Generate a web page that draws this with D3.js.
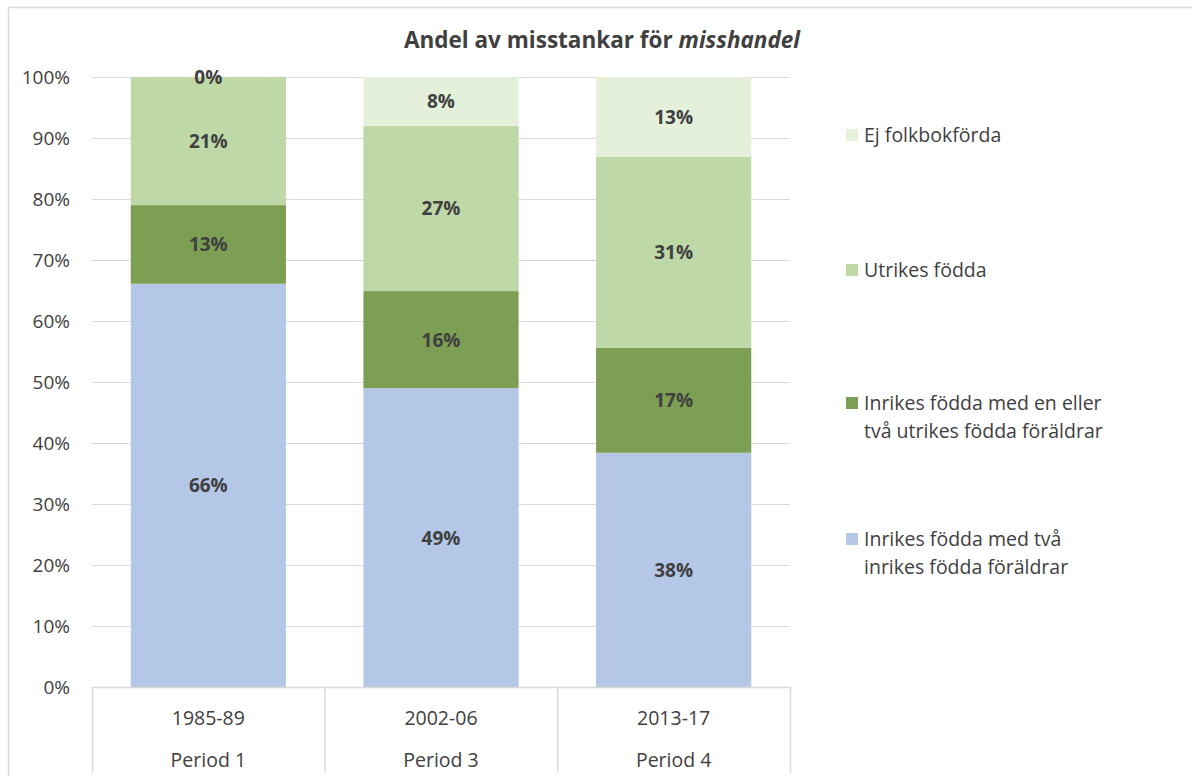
<!DOCTYPE html>
<html>
<head>
<meta charset="utf-8">
<title>Andel av misstankar för misshandel</title>
<script src="https://d3js.org/d3.v7.min.js"></script>
<style>
  body { margin: 0; background: #fff; }
  text { font-family: "Open Sans", "Noto Sans", sans-serif; fill: #404040; }
</style>
</head>
<body>
<div id="chart"></div>
<script>
    // data (percent)
    var periods = ["1985-89", "2002-06", "2013-17"];
    var periodNames = ["Period 1", "Period 3", "Period 4"];
    var seriesNames = ["Inrikes födda med två inrikes födda föräldrar",
                       "Inrikes födda med en eller två utrikes födda föräldrar",
                       "Utrikes födda",
                       "Ej folkbokförda"];
    var inrikesTva = [66.1, 49.0, 38.4];
    var inrikesEnEller = [12.9, 15.9, 17.2];
    var utrikes = [21.0, 27.1, 31.3];
    var ejFolkbokforda = [0.0, 8.0, 13.1];
    var yTicks = [0, 10, 20, 30, 40, 50, 60, 70, 80, 90, 100];
    var colors = ["#b4c7e7", "#7c9f54", "#bfd8a7", "#e4f0da"];
    var legendLines = [["Inrikes födda med två", "inrikes födda föräldrar"],
                       ["Inrikes födda med en eller", "två utrikes födda föräldrar"],
                       ["Utrikes födda"],
                       ["Ej folkbokförda"]];

    var W = 1192, H = 776;
    var margin = {left: 92, right: 402, top: 77, bottom: 89};
    var width = W - margin.left - margin.right,
        height = H - margin.top - margin.bottom;

    var svg = d3.select("#chart").append("svg")
        .attr("width", W).attr("height", H);

    // chart frame (only top and left visible in the reference)
    svg.append("path")
        .attr("d", "M8.5," + H + "V7.5H" + W)
        .attr("fill", "none").attr("stroke", "#d9d9d9").attr("stroke-width", 1.5);

    // title
    var title = svg.append("text")
        .attr("x", 602).attr("y", 48)
        .attr("text-anchor", "middle")
        .style("font-size", "22.5px").style("font-weight", "bold");
    title.append("tspan").text("Andel av misstankar för ");
    title.append("tspan").style("font-style", "italic").text("misshandel");

    var g = svg.append("g")
        .attr("transform", "translate(" + margin.left + "," + margin.top + ")");

    var x = d3.scaleBand().domain(periods).range([0, width]).paddingInner(0.333).paddingOuter(0.1665);
    var y = d3.scaleLinear().domain([0, 100]).range([height, 0]);

    // gridlines
    g.append("g").selectAll("line").data(yTicks).join("line")
        .attr("x1", 0).attr("x2", width)
        .attr("y1", d => Math.round(y(d)) + 0.5).attr("y2", d => Math.round(y(d)) + 0.5)
        .attr("stroke", "#d9d9d9").attr("stroke-width", 1.2);

    // y axis labels
    var yAxis = g.append("g").call(d3.axisLeft(y).tickValues(yTicks).tickSize(0).tickPadding(22)
        .tickFormat(d => d + "%"));
    yAxis.select(".domain").remove();
    yAxis.selectAll("text").style("font-size", "19px").attr("fill", "#595959")
        .style("font-family", "'Open Sans', sans-serif");

    // stacked data
    var rows = periods.map(function(p, i) {
        return {period: p, s0: inrikesTva[i], s1: inrikesEnEller[i], s2: utrikes[i], s3: ejFolkbokforda[i]};
    });
    var stack = d3.stack().keys(["s0", "s1", "s2", "s3"]);
    var layers = stack(rows);

    var layer = g.selectAll(".layer").data(layers).join("g")
        .attr("class", "layer")
        .attr("fill", (d, i) => colors[i]);

    layer.selectAll("rect").data(d => d).join("rect")
        .attr("x", d => x(d.data.period))
        .attr("width", x.bandwidth())
        .attr("y", d => y(d[1]))
        .attr("height", d => y(d[0]) - y(d[1]));

    // value labels
    layer.selectAll("text").data(d => d).join("text")
        .attr("x", d => x(d.data.period) + x.bandwidth() / 2)
        .attr("y", d => (y(d[0]) + y(d[1])) / 2 + 7)
        .attr("text-anchor", "middle")
        .style("font-size", "19px").style("font-weight", "bold")
        .text(d => Math.round(d[1] - d[0]) + "%");

    // category axis with boxes
    var cat = g.append("g").attr("transform", "translate(0," + height + ")");
    cat.append("line").attr("x1", 0).attr("x2", width).attr("y1", 0.5).attr("y2", 0.5)
        .attr("stroke", "#d9d9d9").attr("stroke-width", 1.5);
    var step = x.step();
    cat.selectAll(".sep").data(d3.range(periods.length + 1)).join("line")
        .attr("class", "sep")
        .attr("x1", i => i * step + 0.5).attr("x2", i => i * step + 0.5)
        .attr("y1", 0).attr("y2", 86)
        .attr("stroke", "#d9d9d9").attr("stroke-width", 1.5);
    cat.selectAll(".yr").data(periods).join("text")
        .attr("class", "yr")
        .attr("x", d => x(d) + x.bandwidth() / 2).attr("y", 38)
        .attr("text-anchor", "middle").style("font-size", "19.5px")
        .text(d => d);
    cat.selectAll(".pn").data(periods).join("text")
        .attr("class", "pn")
        .attr("x", d => x(d) + x.bandwidth() / 2).attr("y", 80)
        .attr("text-anchor", "middle").style("font-size", "19.5px")
        .text((d, i) => periodNames[i]);

    // legend (top item = last series)
    var legendY = [539, 403, 270, 135];
    var legend = svg.append("g").selectAll("g").data(seriesNames).join("g")
        .attr("transform", (d, i) => "translate(846," + legendY[i] + ")");
    legend.append("rect").attr("x", 0).attr("y", -6).attr("width", 12).attr("height", 12)
        .attr("fill", (d, i) => colors[i]);
    legend.append("text")
        .attr("x", 18).attr("y", 7)
        .style("font-size", "19.5px")
        .selectAll("tspan").data((d, i) => legendLines[i]).join("tspan")
        .attr("x", 18).attr("dy", (d, j) => j === 0 ? 0 : 28)
        .text(d => d);
</script>
</body>
</html>
